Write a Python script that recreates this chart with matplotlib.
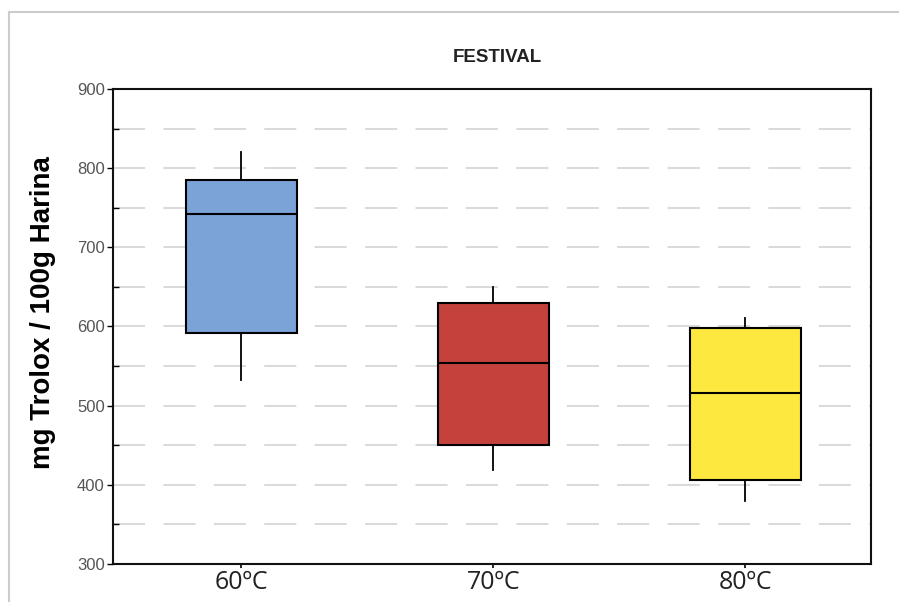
import matplotlib.pyplot as plt
from matplotlib.lines import Line2D

# Antioxidant capacity by drying temperature (box summary values)
categories = ['60ºC', '70ºC', '80ºC']
whisker_low = [533, 419, 379]
q1 = [592, 450, 406]
median = [742, 554, 516]
q3 = [785, 630, 598]
whisker_high = [820, 650, 611]
box_colors = ['#7BA3D8', '#C5413B', '#FDE83F']
grid_levels = [350, 400, 450, 500, 550, 600, 650, 700, 750, 800, 850]

plt.rcParams['font.family'] = ['Liberation Sans', 'DejaVu Sans']

fig = plt.figure(figsize=(8.99, 6.02), dpi=100)
ax = fig.add_axes([0.1257, 0.0631, 0.8432, 0.7891])

stats = []
for i, name in enumerate(categories):
    stats.append({
        'label': name,
        'whislo': whisker_low[i],
        'q1': q1[i],
        'med': median[i],
        'q3': q3[i],
        'whishi': whisker_high[i],
        'fliers': [],
    })

positions = list(range(1, len(categories) + 1))
bp = ax.bxp(stats, positions=positions, widths=0.44, patch_artist=True,
            showcaps=False, showfliers=False,
            boxprops=dict(edgecolor='black', linewidth=1.5),
            medianprops=dict(color='black', linewidth=1.5),
            whiskerprops=dict(color='black', linewidth=1.3))
for patch, c in zip(bp['boxes'], box_colors):
    patch.set_facecolor(c)

xmin, xmax = 0.49, 3.5
ax.set_xlim(xmin, xmax)
ax.set_ylim(300, 900)
ax.set_yticks(range(300, 901, 100))
ax.set_yticks(range(350, 900, 100), minor=True)
ax.tick_params(axis='y', which='major', direction='out', length=4, width=1,
               labelsize=12, labelcolor='#555555', pad=2)
ax.tick_params(axis='y', which='minor', direction='in', length=4, width=1)
ax.tick_params(axis='x', direction='out', length=3, width=1.2,
               labelsize=18, pad=1)
for lbl in ax.get_xticklabels():
    lbl.set_family(['Open Sans', 'DejaVu Sans'])
    lbl.set_color('#222222')

# dashed horizontal guides every 50 units
for y in grid_levels:
    ax.plot([xmin, xmax], [y, y], color='#cfcfcf', linewidth=1.1,
            linestyle=(0, (21, 12)), zorder=0.5)

for side in ['left', 'bottom', 'top', 'right']:
    ax.spines[side].set_linewidth(1.5)
    ax.spines[side].set_color('#111111')

ax.set_ylabel('mg Trolox / 100g Harina', fontsize=20, fontweight='bold')
ax.yaxis.set_label_coords(-0.075, 0.53)
fig.text(0.553, 0.905, 'FESTIVAL', ha='center', va='center',
         fontsize=13.5, fontweight='bold', color='#222222')

# light outer frame
fig.add_artist(Line2D([0.01, 1.0], [0.980, 0.980], transform=fig.transFigure,
                      color='#cccccc', linewidth=1.5))
fig.add_artist(Line2D([0.01, 0.01], [0.0, 0.980], transform=fig.transFigure,
                      color='#cccccc', linewidth=1.5))

fig.savefig('out.png', dpi=100)
